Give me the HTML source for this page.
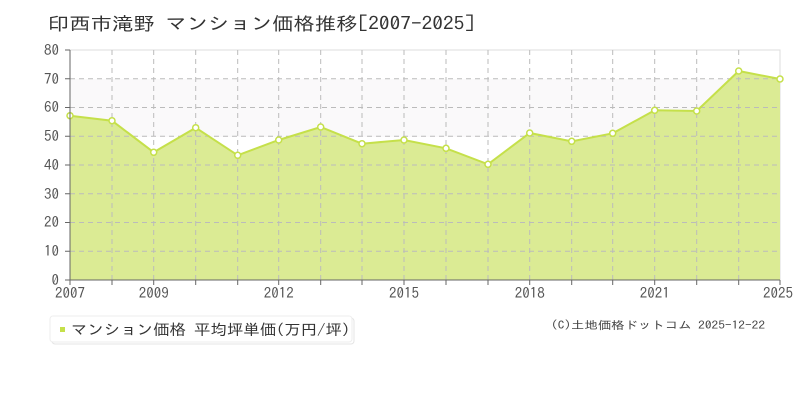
<!DOCTYPE html>
<html><head><meta charset="utf-8"><style>
body{margin:0;background:#fff;width:800px;height:400px;overflow:hidden}
</style></head><body>
<svg width="800" height="400" xmlns="http://www.w3.org/2000/svg" font-family="IPAGothic,'Noto Sans CJK JP',sans-serif">
<text x="48" y="30" font-size="18" fill="#333" textLength="427" lengthAdjust="spacingAndGlyphs">印西市滝野 マンション価格推移[2007-2025]</text>
<rect x="70" y="79" width="710" height="58" fill="#faf9fa"/>
<rect x="70" y="50" width="710" height="230" fill="none" stroke="#ddd"/>
<polygon fill="#dbeb94" points="70,280 70,115.7 112,120.7 153.7,152.3 195.7,127.7 237.7,155.3 278.7,140 320.7,127 362,143.7 404,140 446,148.3 488,164.3 529.7,133 571.7,141.3 612.7,133.3 654.7,110.3 696.7,111 738.7,71 780,79 780,280"/>
<g stroke="#bbb" stroke-dasharray="5,4" stroke-width="1" fill="none">
<path d="M70 251.25H780M70 222.5H780M70 193.75H780M70 165H780M70 136.25H780M70 107.5H780M70 78.75H780"/>
<path d="M112 50V280M153.7 50V280M195.7 50V280M237.7 50V280M278.7 50V280M320.7 50V280M362 50V280M404 50V280M446 50V280M488 50V280M529.7 50V280M571.7 50V280M612.7 50V280M654.7 50V280M696.7 50V280M738.7 50V280"/>
</g>
<polyline fill="none" stroke="#c5e04a" stroke-width="2" points="70,115.7 112,120.7 153.7,152.3 195.7,127.7 237.7,155.3 278.7,140 320.7,127 362,143.7 404,140 446,148.3 488,164.3 529.7,133 571.7,141.3 612.7,133.3 654.7,110.3 696.7,111 738.7,71 780,79"/>
<g fill="#fff" stroke="#c5e04a" stroke-width="1.5">
<circle cx="70" cy="115.7" r="3"/><circle cx="112" cy="120.7" r="3"/><circle cx="153.7" cy="152.3" r="3"/><circle cx="195.7" cy="127.7" r="3"/><circle cx="237.7" cy="155.3" r="3"/><circle cx="278.7" cy="140" r="3"/><circle cx="320.7" cy="127" r="3"/><circle cx="362" cy="143.7" r="3"/><circle cx="404" cy="140" r="3"/><circle cx="446" cy="148.3" r="3"/><circle cx="488" cy="164.3" r="3"/><circle cx="529.7" cy="133" r="3"/><circle cx="571.7" cy="141.3" r="3"/><circle cx="612.7" cy="133.3" r="3"/><circle cx="654.7" cy="110.3" r="3"/><circle cx="696.7" cy="111" r="3"/><circle cx="738.7" cy="71" r="3"/><circle cx="780" cy="79" r="3"/>
</g>
<path d="M70 50V280H780" stroke="#666" fill="none"/>
<g stroke="#666"><path d="M65 280H70M65 251.25H70M65 222.5H70M65 193.75H70M65 165H70M65 136.25H70M65 107.5H70M65 78.75H70M65 50H70"/>
<path d="M70 280V285M112 280V285M153.7 280V285M195.7 280V285M237.7 280V285M278.7 280V285M320.7 280V285M362 280V285M404 280V285M446 280V285M488 280V285M529.7 280V285M571.7 280V285M612.7 280V285M654.7 280V285M696.7 280V285M738.7 280V285M780 280V285"/></g>
<g font-size="15" fill="#555" text-anchor="end">
<text x="59" y="285">0</text><text x="59" y="256">10</text><text x="59" y="227">20</text><text x="59" y="199">30</text><text x="59" y="170">40</text><text x="59" y="141">50</text><text x="59" y="112">60</text><text x="59" y="84">70</text><text x="59" y="55">80</text>
</g>
<g font-size="15" fill="#555" text-anchor="middle">
<text x="70" y="298">2007</text><text x="153.7" y="298">2009</text><text x="278.7" y="298">2012</text><text x="404" y="298">2015</text><text x="529.7" y="298">2018</text><text x="654.7" y="298">2021</text><text x="778" y="298">2025</text>
</g>
<rect x="52" y="318" width="302" height="26" rx="3" fill="#fff" stroke="#e4e4e4"/>
<rect x="50" y="316" width="302" height="26" rx="3" fill="#fff" stroke="#eee"/>
<rect x="60" y="327" width="5" height="5" fill="#c5e04a"/>
<text x="71" y="335" font-size="15" fill="#333" textLength="279" lengthAdjust="spacingAndGlyphs">マンション価格 平均坪単価(万円/坪)</text>
<text x="551" y="329" font-size="11" fill="#444" textLength="214" lengthAdjust="spacingAndGlyphs">(C)土地価格ドットコム 2025-12-22</text>
</svg>
</body></html>
